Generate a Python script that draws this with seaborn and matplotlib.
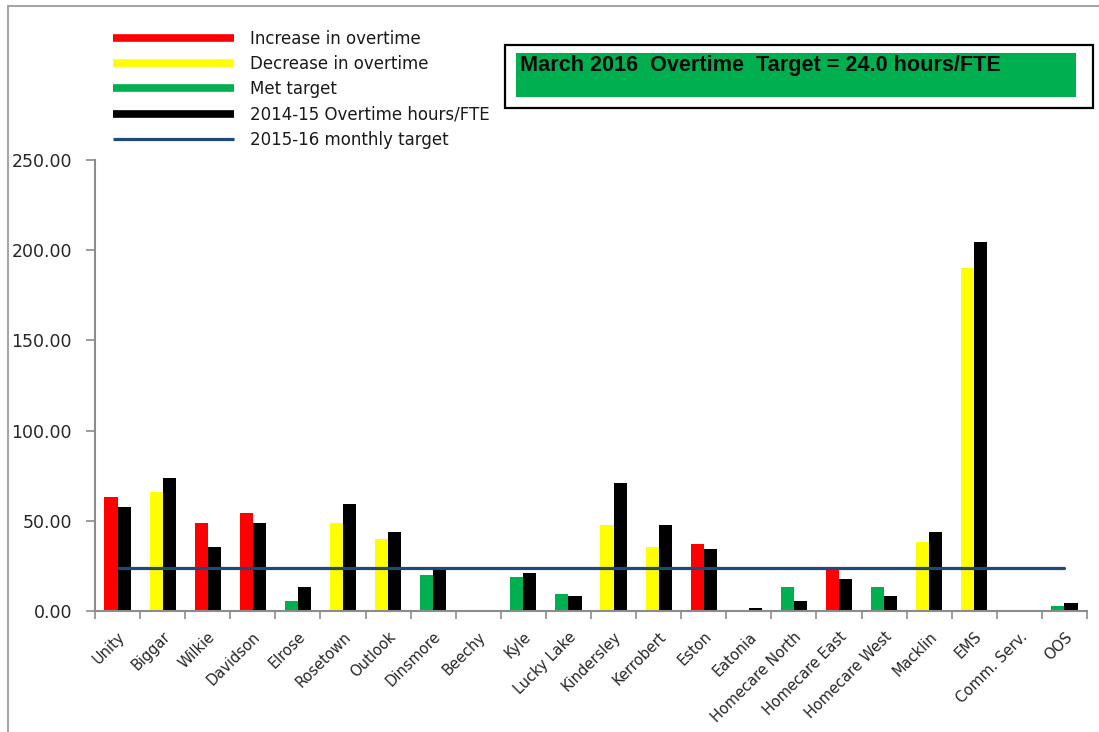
import numpy as np
import pandas as pd
import matplotlib
matplotlib.use("Agg")
import matplotlib.pyplot as plt
import seaborn as sns
from matplotlib.lines import Line2D
from matplotlib.patches import Rectangle
from matplotlib.ticker import FormatStrFormatter, FixedLocator

# ---------------- data ----------------
categories = ["Unity", "Biggar", "Wilkie", "Davidson", "Elrose", "Rosetown", "Outlook",
              "Dinsmore", "Beechy", "Kyle", "Lucky Lake", "Kindersley", "Kerrobert",
              "Eston", "Eatonia", "Homecare North", "Homecare East", "Homecare West",
              "Macklin", "EMS", "Comm. Serv.", "OOS"]
ot_2015_16 = [63.3, 65.8, 48.6, 54.2, 5.5, 48.6, 39.7, 20.0, 0.0, 18.7, 9.4, 47.7, 35.6,
              37.1, 0.0, 13.5, 23.7, 13.5, 38.4, 190.3, 0.0, 2.8]
ot_2014_15 = [57.7, 73.7, 35.6, 48.6, 13.5, 59.3, 43.6, 23.7, 0.0, 21.2, 8.3, 71.1, 47.7,
              34.5, 1.7, 5.5, 17.6, 8.3, 43.6, 204.4, 0.0, 4.3]
status = ["Increase", "Decrease", "Increase", "Increase", "Met", "Decrease", "Decrease",
          "Met", "Met", "Met", "Met", "Decrease", "Decrease", "Increase", "Met", "Met",
          "Increase", "Met", "Decrease", "Decrease", "Met", "Met"]
monthly_target = [24.0] * len(categories)
y_ticks = [0, 50, 100, 150, 200, 250]

legend_labels = ["Increase in overtime", "Decrease in overtime", "Met target",
                 "2014-15 Overtime hours/FTE", "2015-16 monthly target"]
title_text = "March 2016  Overtime  Target = 24.0 hours/FTE"

status_colors = {"Increase": "#FF0000", "Decrease": "#FFFF00", "Met": "#00B050"}
prior_color = "#000000"
target_color = "#1F497D"

# ---------------- figure ----------------
W, H = 1099, 732
fig = plt.figure(figsize=(W / 100, H / 100), dpi=100)
sns.set_style("white")
plt.rcParams["font.family"] = ["DejaVu Sans"]

def fx(px):
    return px / W

def fy(py):
    return 1 - py / H

ax = fig.add_axes([fx(95), fy(611), fx(1087) - fx(95), fy(160) - fy(611)])

df = pd.DataFrame({
    "Category": categories * 2,
    "Year": ["2015-16"] * len(categories) + ["2014-15"] * len(categories),
    "Value": ot_2015_16 + ot_2014_15,
})
sns.barplot(data=df, x="Category", y="Value", hue="Year", order=categories,
            hue_order=["2015-16", "2014-15"],
            palette={"2015-16": "#FF0000", "2014-15": prior_color},
            width=0.58, linewidth=0, errorbar=None, legend=False, ax=ax)

for patch, st in zip(ax.containers[0], status):
    patch.set_facecolor(status_colors[st])

sns.lineplot(x=np.arange(len(categories)), y=monthly_target, color=target_color,
             linewidth=2.3, ax=ax, legend=False)

ax.set_xlim(-0.5, len(categories) - 0.5)
ax.set_ylim(0, 250)
ax.set_xlabel("")
ax.set_ylabel("")

# y axis
ax.yaxis.set_major_locator(FixedLocator(y_ticks))
ax.yaxis.set_major_formatter(FormatStrFormatter("%.2f"))
ax.tick_params(axis="y", direction="out", length=6.5, width=1.2, color="#8C8C8C",
               labelsize=12.5, labelcolor="#262626", pad=10, left=True)

# x axis: tick marks between categories
ax.set_xticks(np.arange(len(categories)))
ax.set_xticklabels(categories, rotation=45, ha="right", rotation_mode="anchor",
                   fontsize=10.5, color="#262626")
ax.tick_params(axis="x", which="major", length=0, pad=13)
ax.set_xticks(np.arange(-0.5, len(categories)), minor=True)
ax.tick_params(axis="x", which="minor", direction="out", length=6, width=1.2,
               color="#8C8C8C", bottom=True)

for side in ["top", "right"]:
    ax.spines[side].set_visible(False)
for side in ["left", "bottom"]:
    ax.spines[side].set_color("#8C8C8C")
    ax.spines[side].set_linewidth(1.5)

# legend
handles = [
    Line2D([], [], color=status_colors["Increase"], linewidth=5.5, solid_capstyle="butt"),
    Line2D([], [], color=status_colors["Decrease"], linewidth=5.5, solid_capstyle="butt"),
    Line2D([], [], color=status_colors["Met"], linewidth=5.5, solid_capstyle="butt"),
    Line2D([], [], color=prior_color, linewidth=5.5, solid_capstyle="butt"),
    Line2D([], [], color=target_color, linewidth=2.3, solid_capstyle="butt"),
]
fig.legend(handles, legend_labels, loc="upper left",
           bbox_to_anchor=(fx(113), fy(29.5)), bbox_transform=fig.transFigure,
           frameon=False, fontsize=12, handlelength=7.25, handletextpad=0.95,
           labelspacing=0.44, borderpad=0, borderaxespad=0, labelcolor="#1a1a1a")

# title box
fig.add_artist(Rectangle((fx(505), fy(108)), fx(1093) - fx(505), fy(45) - fy(108),
                         transform=fig.transFigure, facecolor="white",
                         edgecolor="black", linewidth=1.6))
fig.add_artist(Rectangle((fx(516), fy(97)), fx(1076) - fx(516), fy(53) - fy(97),
                         transform=fig.transFigure, facecolor="#00B050",
                         edgecolor="none"))
fig.text(fx(520), fy(65.5), title_text, ha="left", va="center", fontsize=15.6,
         fontweight="bold", color="#0a0a0a",
         family=["Liberation Sans", "DejaVu Sans"])

# outer chart border (partially visible)
fig.add_artist(Rectangle((fx(8), -0.1), 1.2, fy(6) + 0.1, transform=fig.transFigure,
                         facecolor="none", edgecolor="#A6A6A6", linewidth=1.5))

fig.savefig("out.png", dpi=100)
